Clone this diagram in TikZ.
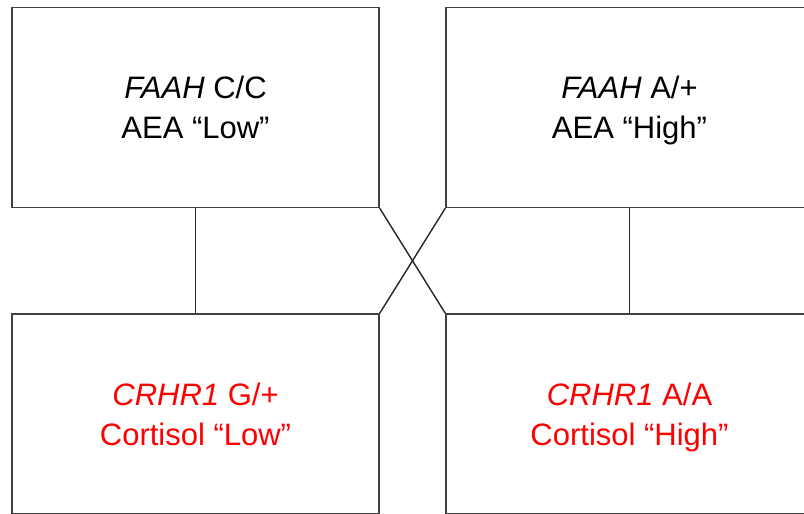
\documentclass[tikz,border=0pt]{standalone}
\usepackage{fontspec}
\setmainfont{Liberation Sans}
\usepackage{tikz}

\begin{document}
\begin{tikzpicture}[x=1pt,y=-1pt,
  box/.style={draw=black!75,line width=1.4pt,minimum width=367pt,minimum height=200pt,inner sep=0pt,align=center,font=\fontsize{31}{40}\selectfont},
  link/.style={draw=black!85,line width=1.4pt}]

\useasboundingbox (0,0) rectangle (804,514);
\clip (0,0) rectangle (804,514);

\node [box] (faahCC) at (195.5,107.5) {\textit{FAAH} C/C\\AEA “Low”};
\node [box] (faahA) at (629.5,107.5) {\textit{FAAH} A/+\\AEA \smash{“High”}};
\node [box,text=red] (crhrG) at (195.5,414) {\textit{CRHR1} G/+\\Cortisol “Low”};
\node [box,text=red] (crhrAA) at (629.5,414) {\textit{CRHR1} A/A\\Cortisol \smash{“High”}};

\draw [link] (faahCC.south) -- (crhrG.north);
\draw [link] (faahA.south) -- (crhrAA.north);

\draw [link] (faahCC.south east) -- (crhrAA.north west);
\draw [link] (faahA.south west) -- (crhrG.north east);

\end{tikzpicture}
\end{document}
